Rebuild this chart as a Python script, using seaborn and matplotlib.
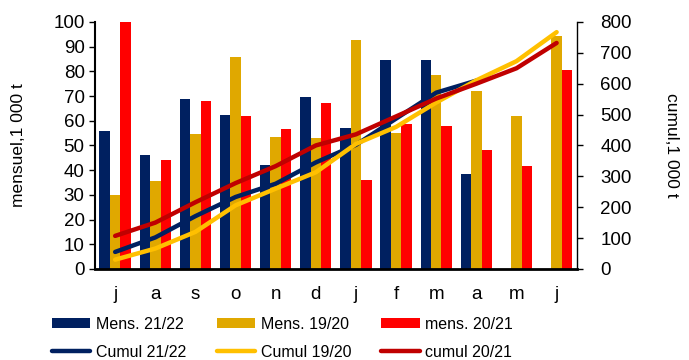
import numpy as np
import pandas as pd
import seaborn as sns
import matplotlib.pyplot as plt
from matplotlib.patches import Patch
from matplotlib.lines import Line2D

months = ['j', 'a', 's', 'o', 'n', 'd', 'j', 'f', 'm', 'a', 'm', 'j']

# monthly values, 1 000 t
mens_2122 = [56, 46, 69, 62.5, 42, 69.5, 57, 84.5, 84.5, 38.5, np.nan, np.nan]
mens_1920 = [30, 35.5, 54.5, 86, 53.5, 53, 92.5, 55, 78.5, 72, 62, 94.5]
mens_2021 = [100, 44, 68, 62, 56.5, 67, 36, 58.5, 58, 48, 41.5, 80.5]

# cumulative values, 1 000 t
cumul_2122 = [55, 102, 171, 233, 276, 345, 402, 487, 571, 610, np.nan, np.nan]
cumul_1920 = [30, 66, 120, 206, 260, 313, 405, 460, 539, 611, 673, 767]
cumul_2021 = [107, 150, 216, 278, 333, 400, 436, 494, 552, 600, 650, 732]

bar_names = ['Mens. 21/22', 'Mens. 19/20', 'mens. 20/21']
line_names = ['Cumul 21/22', 'Cumul 19/20', 'cumul 20/21']
bar_colors = ['#002060', '#E0A800', '#FF0000']
line_colors = ['#002060', '#FFC000', '#C00000']

plt.rcParams['font.family'] = ['Liberation Sans', 'DejaVu Sans']
plt.rcParams['font.size'] = 13.5

idx = list(range(len(months)))
bars = pd.DataFrame({
    'pos': idx * 3,
    'val': mens_2122 + mens_1920 + mens_2021,
    'serie': sum([[n] * len(months) for n in bar_names], []),
})
lines = pd.DataFrame({
    'pos': idx * 3,
    'val': cumul_2122 + cumul_1920 + cumul_2021,
    'serie': sum([[n] * len(months) for n in line_names], []),
})

fig = plt.figure(figsize=(6.89, 3.60), dpi=100)
ax = fig.add_axes([0.138, 0.253, 0.699, 0.686])
sns.barplot(data=bars, x='pos', y='val', hue='serie', hue_order=bar_names,
            palette=bar_colors, width=0.78, ax=ax, legend=False, saturation=1)
ax.set_ylim(0, 100)
ax.set_xlim(-0.5, 11.5)
ax.set_yticks(range(0, 101, 10))
ax.set_xticks(idx)
ax.set_xticklabels(months)
ax.set_xlabel('')
ax.set_ylabel('mensuel,1 000 t', labelpad=20, fontsize=12.5)
ax.tick_params(axis='x', length=0, pad=12)
ax.tick_params(axis='y', length=4, width=1, direction='out')

ax2 = ax.twinx()
for name, col in zip(line_names, line_colors):
    d = lines[lines.serie == name].dropna()
    sns.lineplot(x=d.pos.values, y=d.val.values, color=col, linewidth=3.2,
                 ax=ax2, solid_capstyle='round')
ax2.set_ylim(0, 800)
ax2.set_xlim(-0.5, 11.5)
ax2.set_yticks(range(0, 801, 100))
ax2.set_ylabel('cumul,1 000 t', rotation=270, labelpad=34, fontsize=12.5)
ax2.tick_params(axis='y', length=4, width=1, direction='out', pad=13)

for a in (ax, ax2):
    a.spines['top'].set_visible(False)
ax.spines['right'].set_visible(False)
ax.spines['left'].set_linewidth(1.5)
ax.spines['bottom'].set_linewidth(2)
ax2.spines['left'].set_visible(False)
ax2.spines['bottom'].set_visible(False)
ax2.spines['right'].set_linewidth(1)

handles, labels = [], []
for bn, bc, ln, lc in zip(bar_names, bar_colors, line_names, line_colors):
    handles += [Patch(facecolor=bc, edgecolor='none'),
                Line2D([], [], color=lc, linewidth=3.2, solid_capstyle='round')]
    labels += [bn, ln]
fig.legend(handles, labels, ncol=3, loc='upper left', bbox_to_anchor=(0.064, 0.142),
           frameon=False, fontsize=11.5, borderpad=0, handlelength=2.4,
           handleheight=0.6, handletextpad=0.35, columnspacing=1.9,
           labelspacing=0.8)

fig.savefig('out.png', dpi=100)
